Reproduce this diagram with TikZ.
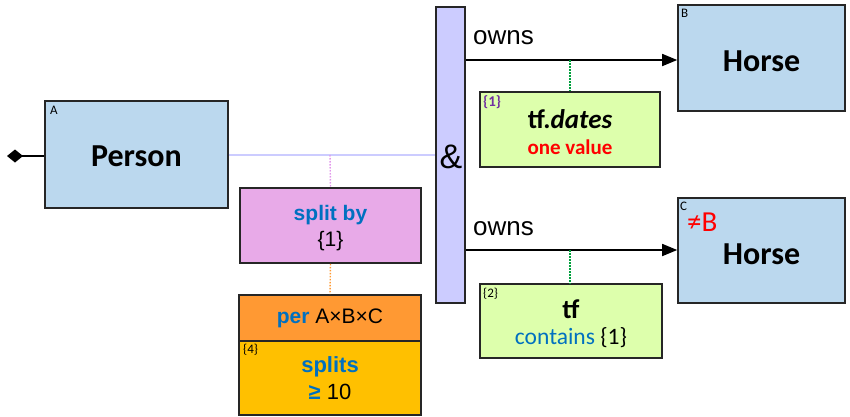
\documentclass[tikz,border=0pt]{standalone}
\usepackage{fontspec}
\setmainfont{Carlito}
\newfontfamily\arial{Liberation Sans}
\usetikzlibrary{arrows.meta}
\definecolor{entity}{RGB}{187,216,238}
\definecolor{barfill}{RGB}{204,204,255}
\definecolor{greenbox}{RGB}{221,255,172}
\definecolor{pinkbox}{RGB}{232,170,232}
\definecolor{orangebox}{RGB}{255,153,51}
\definecolor{goldbox}{RGB}{255,192,0}
\definecolor{kwblue}{RGB}{0,112,192}
\definecolor{kwpurple}{RGB}{112,48,160}
\definecolor{dotgreen}{RGB}{0,160,60}
\definecolor{lavline}{RGB}{204,204,255}
\definecolor{dotpink}{RGB}{225,150,235}
\definecolor{dotorange}{RGB}{255,153,51}
\begin{document}
\begin{tikzpicture}[x=1pt,y=-1pt,
  box/.style={draw=black!85, line width=1.6pt, inner sep=0pt, align=center},
  entitybox/.style={box, fill=entity},
  bigtxt/.style={font=\bfseries\fontsize{32}{38}\selectfont},
  corner/.style={anchor=north west, inner sep=0pt, font=\fontsize{13}{15}\selectfont},
  ownslbl/.style={anchor=west, inner sep=0pt, font=\arial\fontsize{26}{30}\selectfont},
  conn/.style={line width=1.6pt, black},
  dotc/.style={line width=1.4pt, dash pattern=on 1.5pt off 1.5pt}
]
\useasboundingbox (0,0) rectangle (850,416);

% entity boxes
\node[entitybox, minimum width=183pt, minimum height=107pt] (A) at (136.5,154.5) {};
\node[bigtxt] (Atxt) at (136.5,156) {Person};
\node[corner] (Alab) at (50,106) {A};

\node[entitybox, minimum width=167pt, minimum height=106pt] (B) at (761.5,58) {};
\node[bigtxt] (Btxt) at (761.5,61) {Horse};
\node[corner] (Blab) at (681,9) {B};

\node[entitybox, minimum width=167pt, minimum height=105pt] (C) at (761.5,250.5) {};
\node[bigtxt] (Ctxt) at (761.5,254) {Horse};
\node[corner] (Clab) at (680,202) {C};
\node[anchor=west, inner sep=0pt, text=red, font=\fontsize{29}{34}\selectfont] (Cneq) at (687,222) {≠B};

% & bar
\node[box, fill=barfill, minimum width=29pt, minimum height=296pt] (bar) at (450.5,155) {};
\node[inner sep=0pt, font=\arial\fontsize{34}{40}\selectfont] (amp) at (451,157) {\&};

% green boxes
\node[box, fill=greenbox, minimum width=180pt, minimum height=75pt] (tfd) at (570,129.5) {};
\node[inner sep=0pt, font=\bfseries\fontsize{27}{32}\selectfont] (tfdtxt) at (570,119) {tf.\textit{dates}};
\node[inner sep=0pt, text=red, font=\bfseries\fontsize{21}{25}\selectfont] (tfdone) at (570,147) {one value};
\node[corner, text=kwpurple, font=\bfseries\fontsize{15}{17}\selectfont] (tfdlab) at (483,95) {\{1\}};

\node[box, fill=greenbox, minimum width=182pt, minimum height=74pt] (tf) at (571,321) {};
\node[inner sep=0pt, font=\bfseries\fontsize{27}{32}\selectfont] (tftxt) at (571,309) {tf};
\node[inner sep=0pt, font=\fontsize{23.5}{28}\selectfont] (tfcont) at (571,338) {\textcolor{kwblue}{contains} \{1\}};
\node[corner] (tflab) at (483,288) {\{2\}};

% split by
\node[box, fill=pinkbox, minimum width=181pt, minimum height=75pt] (split) at (330.5,225.5) {};
\node[inner sep=0pt, text=kwblue, font=\arial\bfseries\fontsize{21}{25}\selectfont] (splittxt) at (330.5,215) {split by};
\node[inner sep=0pt, font=\arial\fontsize{21}{25}\selectfont] (split1) at (330.5,241) {\{1\}};

% per / splits
\node[box, fill=orangebox, minimum width=182pt, minimum height=46pt, font=\arial\fontsize{21}{25}\selectfont] (per) at (330,318) {\textcolor{kwblue}{\bfseries per} A×B×C};
\node[box, fill=goldbox, minimum width=182pt, minimum height=74pt] (splits) at (330,378) {};
\node[inner sep=0pt, text=kwblue, font=\arial\bfseries\fontsize{22}{26}\selectfont] (splitstxt) at (330,367) {splits};
\node[inner sep=0pt, font=\arial\fontsize{22}{26}\selectfont] (ge) at (330,392) {\textcolor{kwblue}{\bfseries ≥} 10};
\node[corner] (splitslab) at (243,344) {\{4\}};

% connectors
\coordinate (dstart) at (7,156);
\draw[conn, -{Diamond[length=16pt,width=13pt]}] (A.west |- dstart) -- (dstart);

\coordinate (lavy) at (330,155);
\draw[lavline, line width=1.5pt] (A.east |- lavy) -- (bar.west |- lavy);
\draw[dotc, dotpink] (lavy) -- (split.north);

\coordinate (o1) at (570,60);
\coordinate (o2) at (570,250);
\draw[conn, -{Triangle[length=15pt,width=12pt]}] (bar.east |- o1) -- (B.west |- o1);
\draw[conn, -{Triangle[length=15pt,width=12pt]}] (bar.east |- o2) -- (C.west |- o2);
\node[ownslbl] (owns1) at (473,38) {owns};
\node[ownslbl] (owns2) at (473,229) {owns};
\draw[dotc, dotgreen] (o1) -- (tfd.north);
\draw[dotc, dotgreen] (o2) -- (tf.north -| o2);

\draw[dotc, dotorange] (split.south) -- (per.north);
\end{tikzpicture}
\end{document}
